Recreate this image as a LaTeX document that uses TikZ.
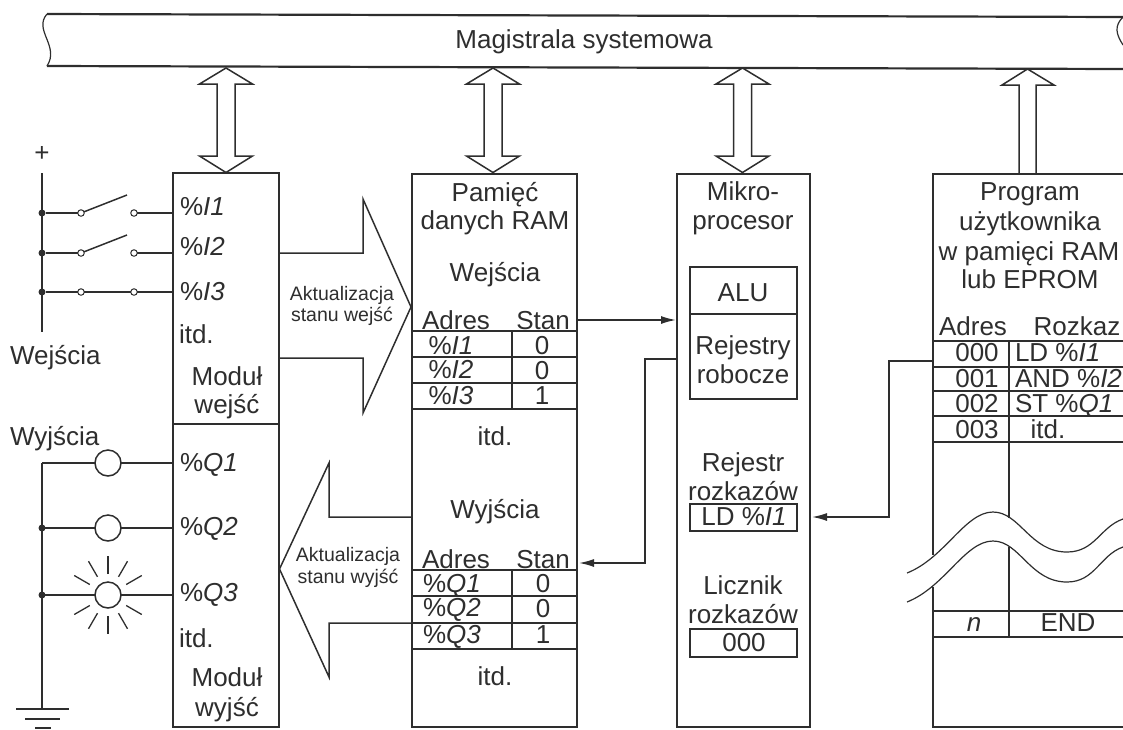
\documentclass[tikz,border=0pt]{standalone}
\usepackage{fontspec}
\setmainfont{Liberation Sans}
\definecolor{ink}{HTML}{2E2E2E}
\usetikzlibrary{arrows.meta}
\tikzset{
  lbl/.style={inner sep=0pt,outer sep=0pt,text=ink,font=\fontsize{26}{26}\selectfont,anchor=center,text height=18pt,text depth=1pt},
  leftlbl/.style={lbl,anchor=west},
  small/.style={lbl,font=\fontsize{19.5}{20}\selectfont,text height=15pt,text depth=5pt},
  ln/.style={draw=ink,line width=1.5pt},
  thin/.style={draw=ink,line width=1.2pt},
  bx/.style={draw=ink,line width=1.5pt,rectangle,inner sep=0pt,outer sep=0pt,anchor=north west,fill=white},
  opendot/.style={circle,draw=ink,line width=1pt,fill=white,minimum size=6.5pt,inner sep=0pt,outer sep=0pt},
  soliddot/.style={circle,fill=ink,minimum size=7pt,inner sep=0pt,outer sep=0pt},
  lamp/.style={circle,draw=ink,line width=1.5pt,fill=white,minimum size=26pt,inner sep=0pt,outer sep=0pt},
  tip/.style={-{Latex[length=15pt,width=8pt]}}
}
\begin{document}
\begin{tikzpicture}[x=1pt,y=-1pt]
\useasboundingbox (0,0) rectangle (1123,729);
% --- bus ---
\draw[ln,line width=2.2pt] (47,14) -- (1123,17);
\draw[ln,line width=2.2pt] (47,66) -- (1123,69);
\draw[thin] (47,14) .. controls (33,30) and (60,46) .. (47,66);
\draw[thin] (1123,17) .. controls (1114,26) and (1116,34) .. (1123,45);
\node[lbl] (bus) at (584,40) {Magistrala systemowa};
% --- boxes ---
\node[bx,minimum width=106pt,minimum height=554pt] (mod) at (173,173) {};
\node[bx,minimum width=165pt,minimum height=553pt] (ram) at (412,174) {};
\node[bx,minimum width=133pt,minimum height=553pt] (cpu) at (677,174) {};
\draw[ln] (mod.west |- 0,424) -- (mod.east |- 0,424);
% --- system bus arrows ---
\foreach \cx/\nm in {226/a,493/b,742.5/c}{
  \draw[ln,fill=white,line join=miter] (\cx,68) -- (\cx+26.5,84) -- (\cx+9,84) -- (\cx+9,156) -- (\cx+26.5,156) -- (\cx,172.5)
     -- (\cx-26.5,156) -- (\cx-9,156) -- (\cx-9,84) -- (\cx-26.5,84) -- cycle;
}
\draw[ln,fill=white] (1019,174) -- (1019,85) -- (1002,85) -- (1027.5,69) -- (1054,85) -- (1036,85) -- (1036,174);
% --- input switches ---
\coordinate (vt) at (42,173); \coordinate (vb) at (42,332);
\draw[ln] (vt) -- (vb);
\node[lbl,text height=0pt,text depth=0pt] (plus) at (42,161.5) {+};
\foreach \y/\n in {213/1,253/2,292/3}{
  \node[soliddot] (j\n) at (42,\y) {};
  \node[opendot] (sa\n) at (81,\y) {};
  \node[opendot] (sb\n) at (134,\y) {};
  \coordinate (in\n) at (173,\y);
  \draw[ln] (j\n) -- (sa\n);
  \draw[ln] (sb\n) -- (in\n);
}
\draw[ln] (sa3) -- (sb3);
\coordinate (sw1) at (127,195); \coordinate (sw2) at (127,235);
\draw[ln] (sa1) -- (sw1);
\draw[ln] (sa2) -- (sw2);
\node[leftlbl] (i1) at (180,207) {\%\textit{I1}};
\node[leftlbl] (i2) at (180,247) {\%\textit{I2}};
\node[leftlbl] (i3) at (180,292) {\%\textit{I3}};
\node[leftlbl] (itd1) at (179,335) {itd.};
\node[lbl] (mw1) at (227,377) {Moduł};
\node[lbl] (mw2) at (227,405) {wejść};
\node[leftlbl] (wej) at (10,356) {Wejścia};
\node[leftlbl] (wyj) at (10,437) {Wyjścia};
% --- big arrows ---
\draw[ln,line join=miter] (279,253) -- (363,253) -- (363,199) -- (411,307) -- (363,413) -- (363,358) -- (279,358);
\node[small] (au1) at (342,295) {Aktualizacja};
\node[small] (au2) at (342,316) {stanu wejść};
\draw[ln,line join=miter] (412,517) -- (329,517) -- (329,463) -- (279.5,569) -- (329,677) -- (329,623) -- (412,623);
\node[small] (av1) at (348,556) {Aktualizacja};
\node[small] (av2) at (348,578) {stanu wyjść};
% --- outputs ---
\coordinate (gt) at (42,463); \coordinate (gb) at (42,709);
\draw[ln] (gt) -- (gb);
\foreach \y/\n in {463/1,528/2,595/3}{
  \coordinate (jq\n) at (42,\y);
  \node[lamp] (l\n) at (108,\y) {};
  \coordinate (oq\n) at (173,\y);
  \draw[ln] (jq\n) -- (l\n);
  \draw[ln] (l\n) -- (oq\n);
}
\node[soliddot] at (jq2) {};
\node[soliddot] at (jq3) {};
\foreach \a in {30,60,90,120,150,210,240,270,300,330}{
  \draw[thin,line width=1.3pt] (l3) ++(\a:21) -- ++(\a:18);
}
\draw[ln] (16,709) -- (69,709);
\draw[ln] (25,719) -- (60,719);
\draw[ln] (35,728) -- (51,728);
\node[leftlbl] (q1) at (180,463) {\%\textit{Q1}};
\node[leftlbl] (q2) at (180,527) {\%\textit{Q2}};
\node[leftlbl] (q3) at (180,593) {\%\textit{Q3}};
\node[leftlbl] (itd2) at (179,639) {itd.};
\node[lbl] (mv1) at (227,678) {Moduł};
\node[lbl] (mv2) at (227,708) {wyjść};
% --- RAM ---
\node[lbl] (r1) at (495,193) {Pamięć};
\node[lbl] (r2) at (495,221) {danych RAM};
\node[lbl] (r3) at (495,273) {Wejścia};
\node[lbl] (ra) at (456,321) {Adres};
\node[lbl] (rs) at (543,321) {Stan};
\foreach \y in {331,357,383,409}{\draw[ln] (412,\y) -- (577,\y);}
\draw[ln] (512,331) -- (512,409);
\node[lbl] at (451,346) {\%\textit{I1}};
\node[lbl] at (451,370) {\%\textit{I2}};
\node[lbl] at (451,396) {\%\textit{I3}};
\node[lbl] at (542,346) {0};
\node[lbl] at (542,371) {0};
\node[lbl] at (542,396) {1};
\node[lbl] at (495,437) {itd.};
\node[lbl] (r4) at (495,510) {Wyjścia};
\node[lbl] (ra2) at (456,560) {Adres};
\node[lbl] (rs2) at (543,560) {Stan};
\foreach \y in {570,596,623,649}{\draw[ln] (412,\y) -- (577,\y);}
\draw[ln] (512,570) -- (512,649);
\node[lbl] at (452,584) {\%\textit{Q1}};
\node[lbl] at (452,608) {\%\textit{Q2}};
\node[lbl] at (452,635) {\%\textit{Q3}};
\node[lbl] at (543,584) {0};
\node[lbl] at (543,609) {0};
\node[lbl] at (543,635) {1};
\node[lbl] at (495,677) {itd.};
% --- CPU ---
\node[lbl] (c1) at (743,192) {Mikro-};
\node[lbl] (c2) at (743,221) {procesor};
\node[bx,minimum width=107pt,minimum height=132pt] (alu) at (690,267) {};
\draw[ln] (690,314) -- (797,314);
\node[lbl] at (743,293) {ALU};
\node[lbl] at (743,346) {Rejestry};
\node[lbl] at (743,375) {robocze};
\node[lbl] at (743,463) {Rejestr};
\node[lbl] at (743,492) {rozkazów};
\node[bx,minimum width=107pt,minimum height=27pt] (irbox) at (690,504) {};
\node[lbl] at (744,517) {LD \%\textit{I1}};
\node[lbl] at (743,586) {Licznik};
\node[lbl] at (743,615) {rozkazów};
\node[bx,minimum width=107pt,minimum height=28pt] (pcbox) at (690,629) {};
\node[lbl] at (744,643) {000};
% --- Program ---
\coordinate (pt) at (933,174); \coordinate (pb) at (933,727);
\coordinate (pwa) at (933,555); \coordinate (pwb) at (933,587);
\draw[ln] (1123,174) -- (pt) -- (pwa);
\draw[ln] (pwb) -- (pb) -- (1123,727);
\node[lbl] at (1030,192) {Program};
\node[lbl] at (1030,222) {użytkownika};
\node[lbl] at (1029,252) {w pamięci RAM};
\node[lbl] at (1030,280) {lub EPROM};
\node[lbl] at (973,327) {Adres};
\node[lbl] at (1077,327) {Rozkaz};
\foreach \y in {341,367,391,416,442,611,637}{\draw[ln] (933,\y) -- (1123,\y);}
\draw[ln] (1009,341) -- (1009,518);
\draw[ln] (1009,547) -- (1009,637);
\node[lbl] at (977,353) {000};
\node[lbl] at (977,379) {001};
\node[lbl] at (977,404) {002};
\node[lbl] at (977,430) {003};
\node[leftlbl] at (1015,353) {LD \%\textit{I1}};
\node[leftlbl] at (1015,379) {AND \%\textit{I2}};
\node[leftlbl] at (1015,404) {ST \%\textit{Q1}};
\node[lbl] at (1048,430) {itd.};
\node[lbl] at (974,623) {\textit{n}};
\node[lbl] at (1068,623) {END};
\draw[thin] (907,573) .. controls (945,558) and (965,512) .. (993,512) .. controls (1020,512) and (1030,552) .. (1067,552) .. controls (1095,552) and (1100,527) .. (1123,519);
\draw[thin] (907,602) .. controls (945,587) and (965,541) .. (993,541) .. controls (1020,541) and (1030,582) .. (1067,582) .. controls (1095,582) and (1100,555) .. (1123,547);
% --- data connectors ---
\coordinate (st1) at (577,320); \coordinate (cpuin) at (676,320);
\draw[ln,tip] (st1) -- (cpuin);
\coordinate (rgo) at (677,359); \coordinate (st2) at (579,563);
\draw[ln,tip] (rgo) -| (645,563) -- (st2);
\coordinate (pgo) at (933,361); \coordinate (irin) at (812,517);
\draw[ln,tip] (pgo) -| (889,517) -- (irin);
\end{tikzpicture}
\end{document}
